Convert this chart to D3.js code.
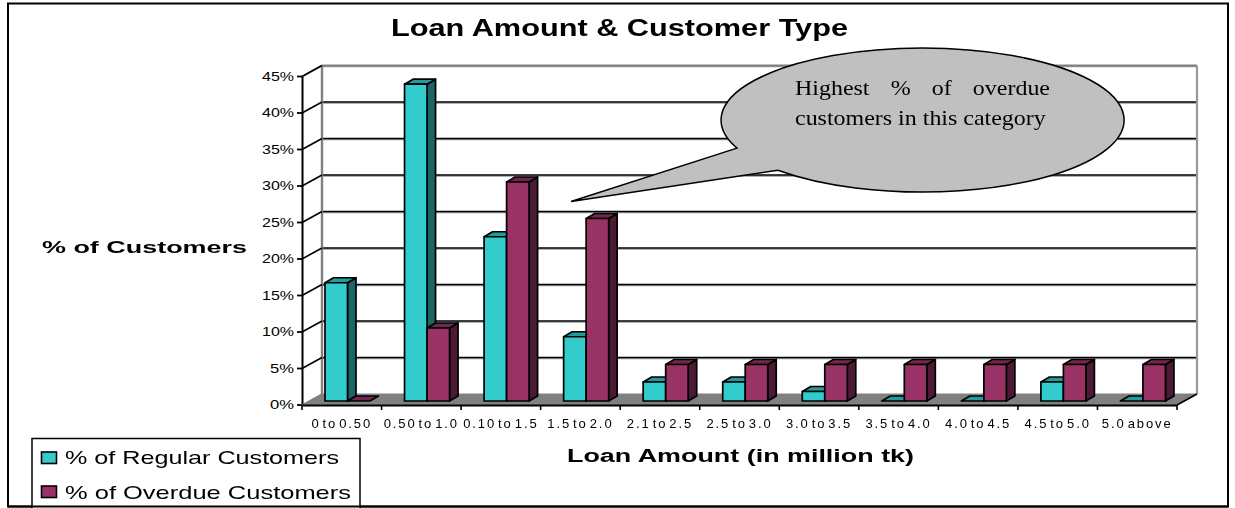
<!DOCTYPE html>
<html><head><meta charset="utf-8">
<script src="https://cdn.jsdelivr.net/npm/d3@7"></script>
<style>html,body{margin:0;padding:0;background:#fff}svg{display:block;filter:blur(.35px)}text{fill:#000}</style>
</head><body><svg id="c" width="1235" height="508"></svg>
<script>
const categories=["0 to 0.50","0.50 to 1.0","0.10 to 1.5","1.5 to 2.0","2.1 to 2.5","2.5 to 3.0","3.0 to 3.5","3.5 to 4.0","4.0 to 4.5","4.5 to 5.0","5.0 above"];
const regular=[16.2,43.4,22.5,8.8,2.6,2.6,1.3,0,0,2.6,0];
const overdue=[0,10,30,25,5,5,5,5,5,5,5];
const yTicks=[0,5,10,15,20,25,30,35,40,45];
const titleText="Loan Amount & Customer Type";
const yTitle="% of Customers", xTitle="Loan Amount (in million tk)";
const seriesNames=["% of Regular Customers","% of Overdue Customers"];
const calloutLines=["Highest % of overdue","customers in this category"];

const C={reg:"#33CCCC",regTop:"#269999",regSide:"#1A6666",ov:"#993366",ovTop:"#732650",ovSide:"#4D1A33"};
const svg=d3.select("#c");
const dx=20,dy=-11, bdx=8.5,bdy=-5;
const x=d3.scaleBand().domain(categories).range([302,1177]);
const y=d3.scaleLinear().domain([0,45]).range([405,76.5]);
const pts=a=>a.map(p=>p.join(",")).join(" ");
const line=(x1,y1,x2,y2,s,w)=>svg.append("line").attr("x1",x1).attr("y1",y1).attr("x2",x2).attr("y2",y2).attr("stroke",s).attr("stroke-width",w);

svg.append("rect").attr("x",8).attr("y",3.5).attr("width",1220).attr("height",503).attr("fill","#fff").attr("stroke","#000").attr("stroke-width",2);

// walls and floor
const xL=x.range()[0],xR=x.range()[1],y0=y(0),yT=y(45);
svg.append("polygon").attr("points",pts([[xL,y0],[xR,y0],[xR+dx,y0+dy],[xL+dx,y0+dy]])).attr("fill","#808080").attr("stroke","#808080").attr("stroke-width",1);
yTicks.slice(1).forEach(t=>{
  line(xL+dx,y(t)+dy+1.2,xR+dx,y(t)+dy+1.2,"#999",1.2);
  if(t<45) line(xL+dx,y(t)+dy,xR+dx,y(t)+dy,"#000",1.6);
});
line(xL+dx,yT+dy,xR+dx,yT+dy,"#808080",2.2);
line(xL+dx,yT+dy,xL+dx,y0+dy,"#808080",2.4);
line(xR+dx,yT+dy,xR+dx,y0+dy,"#999",2.2);
line(xL,yT,xL+dx,yT+dy,"#808080",1.6);

// bars
const by=y0-4, k=(y(0)-y(1));
const yBar=v=>by-k*v;
const barW=22.5, off=23;
function bar(cx,v,w,f,ft,fs){
  const t=yBar(v);
  const g=svg.append("g").attr("stroke","#000").attr("stroke-width",1.7).attr("stroke-linejoin","round");
  if(v>0) g.append("polygon").attr("points",pts([[cx+w,t],[cx+w+bdx,t+bdy],[cx+w+bdx,by+bdy],[cx+w,by]])).attr("fill",fs);
  g.append("polygon").attr("points",pts([[cx,t],[cx+bdx,t+bdy],[cx+w+bdx,t+bdy],[cx+w,t]])).attr("fill",ft);
  if(v>0) g.append("rect").attr("x",cx).attr("y",t).attr("width",w).attr("height",by-t).attr("fill",f);
}
categories.forEach((c,i)=>{
  const x0=x(c)+off;
  bar(x0,regular[i],barW,C.reg,C.regTop,C.regSide);
  bar(x0+barW,overdue[i],barW,C.ov,C.ovTop,C.ovSide);
});

// axes (front)
const axL=d3.axisLeft(y).tickValues(yTicks).tickFormat(d=>d+"%").tickSize(0).tickPadding(8);
const gL=svg.append("g").attr("transform","translate("+xL+",-0.5)").call(axL);
gL.select(".domain").attr("stroke","#000").attr("stroke-width",2).attr("transform","translate(0,0.5)");
gL.selectAll("text").attr("font-family","'Liberation Sans',Arial,sans-serif").attr("font-size",13.5).attr("textLength",d=>d<10?24:32).attr("lengthAdjust","spacingAndGlyphs");
yTicks.forEach(t=>{ line(xL-5,y(t),xL,y(t),"#000",1.8); if(t>0) line(xL,y(t),xL+dx,y(t)+dy,"#000",1.6);});
line(xL,y0,xL+dx,y0+dy,"#808080",1.4);
const axB=d3.axisBottom(x).tickValues([]).tickSize(0);
const gB=svg.append("g").attr("transform","translate(0,"+y0+")").call(axB);
gB.select(".domain").attr("stroke","#000").attr("stroke-width",2);
x.domain().concat([null]).forEach((c,i)=>{const px=xL+i*x.step(); line(px,y0,px,y0+5,"#000",1.6);});
line(xR,y0,xR+dx,y0+dy,"#000",1.6);
svg.append("g").selectAll("text").data(categories).join("text")
  .attr("x",c=>x(c)+x.step()/2).attr("y",428).attr("text-anchor","middle")
  .attr("font-family","'Liberation Sans',Arial,sans-serif").attr("font-size",13).attr("letter-spacing",1.9).attr("word-spacing",-3.5).text(c=>c);

// titles
const txt=(s,xx,yy,size,w,bold)=>svg.append("text").attr("x",xx).attr("y",yy).attr("font-family","'Liberation Sans',Arial,sans-serif").attr("font-size",size).attr("font-weight",bold?700:400).attr("textLength",w).attr("lengthAdjust","spacingAndGlyphs").text(s);
txt(titleText,391,36,23,457,true);
txt(yTitle,42,253,17,205,true);
txt(xTitle,567,461.5,18,347,true);

// legend
svg.append("path").attr("d","M32,508V438.5H360V508").attr("fill","#fff").attr("stroke","#000").attr("stroke-width",1.5);
[[C.reg,452],[C.ov,486]].forEach(([f,yy])=>{
  svg.append("rect").attr("x",41.5).attr("y",yy).attr("width",15).attr("height",11.5).attr("fill",f).attr("stroke","#000").attr("stroke-width",1.6);
});
txt(seriesNames[0],65,464,19,274,false);
txt(seriesNames[1],65,499,19,286,false);
line(8,506.5,1228,506.5,"#000",2);

// callout
const rx=201.5,ry=72;
svg.append("path").attr("d","M737,148.1 L571,201.5 L778,170.2 A"+rx+","+ry+" 0 1 0 737,148.1 Z")
  .attr("fill","#C0C0C0").attr("stroke","#000").attr("stroke-width",1.5).attr("stroke-linejoin","miter");
const calloutText=calloutLines.map((l,i)=>svg.append("text").attr("font-family","'Liberation Serif','Times New Roman',serif").attr("font-size",21).text(l));
const sx=251/calloutText[1].node().getComputedTextLength();
calloutText.forEach((t,i)=>{
  t.attr("transform","translate(795,"+[95,125][i]+") scale("+sx+",1)");
  if(i===0){const n=t.node().getComputedTextLength(); t.attr("word-spacing",(255/sx-n)/3);}
});
</script></body></html>
